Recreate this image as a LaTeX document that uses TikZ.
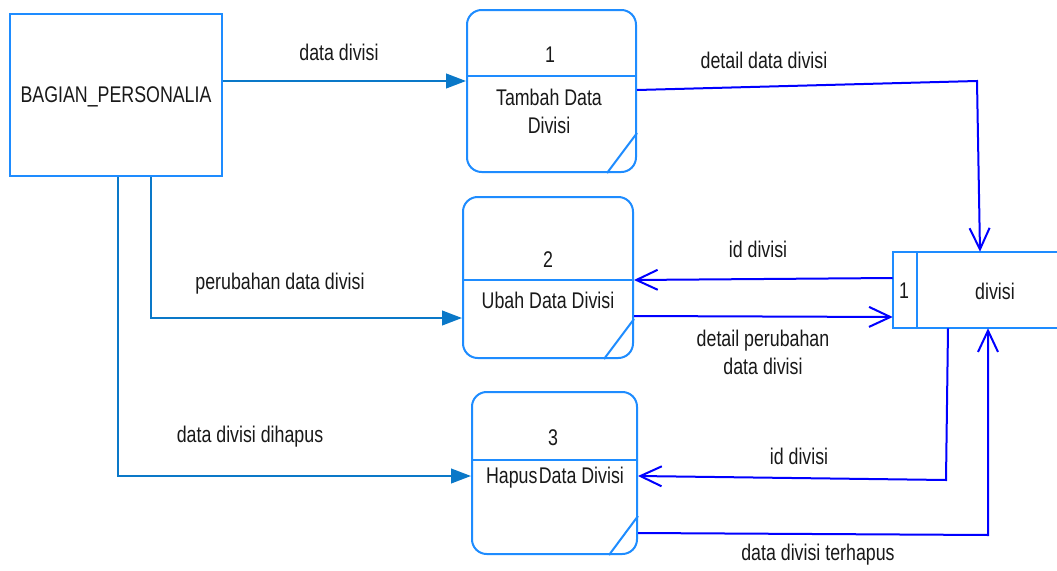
\documentclass[tikz,border=0pt]{standalone}
\usepackage{fontspec}
\setmainfont{Liberation Sans}[FakeStretch=0.785]
\usetikzlibrary{arrows.meta,calc}
\definecolor{boxblue}{RGB}{30,140,255}
\definecolor{flowteal}{RGB}{10,120,200}
\definecolor{flowblue}{RGB}{0,0,255}
\definecolor{txt}{RGB}{25,25,25}
\begin{document}
\begin{tikzpicture}[x=0.75pt,y=-0.75pt,
  every node/.style={font=\fontsize{17}{21}\selectfont, text=txt, inner sep=0pt},
  entity/.style={draw=boxblue, line width=1.5pt, rectangle, minimum width=159pt, minimum height=121.5pt},
  procbox/.style={draw=boxblue, line width=1.5pt, rectangle, rounded corners=11pt},
  boxline/.style={draw=boxblue, line width=1.5pt},
  lflow/.style={draw=flowteal, line width=1.5pt, -{Triangle[length=15pt,width=11pt]}},
  rflow/.style={draw=flowblue, line width=1.5pt, -{Straight Barb[length=16pt,width=15pt,line width=1.5pt]}},
  lbl/.style={align=center}
]
\useasboundingbox (0,0) rectangle (1057,571);
\fill[white] (0,0) rectangle (1057,571);

% external entity
\node[entity] (bag) at (116,95) {};
\node (bagtxt) at (116,97) {BAGIAN\_PERSONALIA};

% process 1
\node[procbox, minimum width=126.75pt, minimum height=121.5pt] (p1) at (551.5,91) {};
\draw[boxline] (p1.west |- 0,76) -- (p1.east |- 0,76);
\draw[boxline] ($(p1.south east)+(-30,0)$) -- ($(p1.south east)+(0,-40)$);
\node (p1num) at (550,55) {1};
\node[lbl] (p1txt) at (549,111) {Tambah Data\\Divisi};

% process 2
\node[procbox, minimum width=127.5pt, minimum height=120.75pt] (p2) at (548,277.5) {};
\draw[boxline] (p2.west |- 0,280) -- (p2.east |- 0,280);
\draw[boxline] ($(p2.south east)+(-30,0)$) -- ($(p2.south east)+(0,-40)$);
\node (p2num) at (548,260) {2};
\node (p2txt) at (548,300) {Ubah Data Divisi};

% process 3
\node[procbox, minimum width=123.75pt, minimum height=121.5pt] (p3) at (554.5,473) {};
\draw[boxline] (p3.west |- 0,460) -- (p3.east |- 0,460);
\draw[boxline] ($(p3.south east)+(-29,0)$) -- ($(p3.south east)+(0,-39)$);
\node (p3num) at (553,438) {3};
\node (p3txt) at (555,478) {Hapus\hspace{1pt}Data Divisi};

% data store
\node[minimum width=123pt, minimum height=57pt] (store) at (975,290) {};
\draw[boxline] (store.north east) -- (store.north west) -- (store.south west) -- (store.south east);
\draw[boxline] (store.north west -| 917,0) -- (store.south west -| 917,0);
\node (storenum) at (904,291) {1};
\node (storetxt) at (995,291) {divisi};

% flows from entity
\draw[lflow] (bag.east |- 0,81) -- (p1.west |- 0,81);
\node (l1) at (339,52) {data divisi};
\draw[lflow] (bag.south -| 151,0) |- (p2.west |- 0,318);
\node (l2) at (280,284) {perubahan data divisi};
\draw[lflow] (bag.south -| 118,0) |- (p3.west |- 0,476);
\node (l3) at (250,437) {data divisi dihapus};

% flows with data store
\coordinate (c1) at (977,81);
\draw[rflow] (p1.east |- 0,90) -- (c1) -- (store.north -| 980,0);
\node (l4) at (764,60) {detail data divisi};

\draw[rflow] (store.west |- 0,278) -- (p2.east |- 0,280);
\node (l5) at (758,249) {id divisi};
\draw[rflow] (p2.east |- 0,316) -- (store.west |- 0,317);
\node[lbl] (l6) at (763,352) {detail perubahan\\data divisi};

\coordinate (c2) at (946,480);
\draw[rflow] (store.south -| 948,0) -- (c2) -- (p3.east |- 0,476);
\node (l7) at (799,456) {id divisi};

\coordinate (c3) at (988,535);
\draw[rflow] (p3.east |- 0,533) -- (c3) -- (store.south -| 988,0);
\node (l8) at (818,555) {data divisi terhapus};
\end{tikzpicture}
\end{document}
